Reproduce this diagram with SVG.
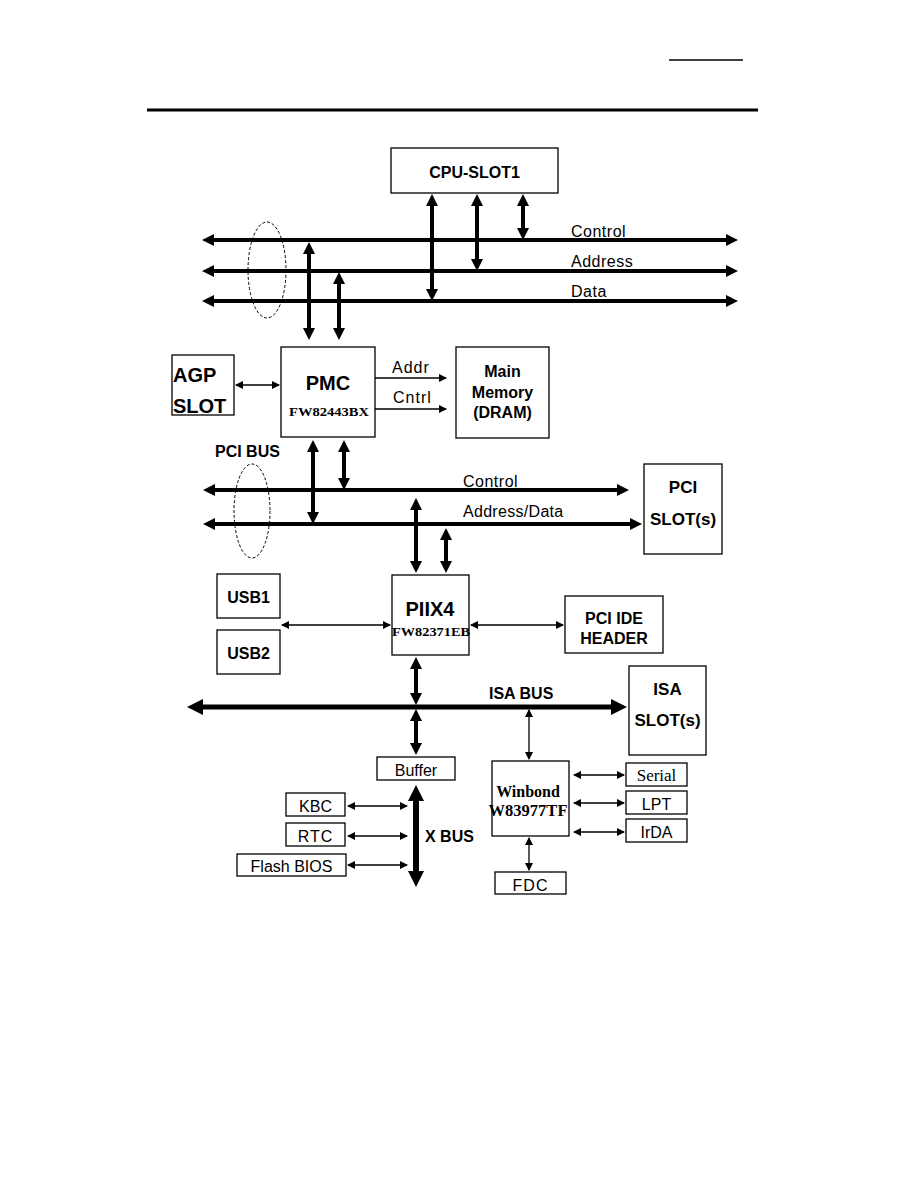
<svg xmlns="http://www.w3.org/2000/svg" width="918" height="1188" viewBox="0 0 918 1188">
<defs>
<marker id="m1" markerUnits="userSpaceOnUse" markerWidth="12" markerHeight="12" refX="8" refY="6" orient="auto-start-reverse"><path d="M0,0 L12,6 L0,12 z" fill="#000"/></marker>
<marker id="m2" markerUnits="userSpaceOnUse" markerWidth="8" markerHeight="8" refX="7" refY="4" orient="auto-start-reverse"><path d="M0,0 L8,4 L0,8 z" fill="#000"/></marker>
<marker id="m3" markerUnits="userSpaceOnUse" markerWidth="16" markerHeight="16" refX="10" refY="8" orient="auto-start-reverse"><path d="M0,0 L16,8 L0,16 z" fill="#000"/></marker>
<style>
.box{fill:#fff;stroke:#000;stroke-width:1.3}
.bus{stroke:#000;stroke-width:4;fill:none;marker-start:url(#m1);marker-end:url(#m1)}
.thin{stroke:#000;stroke-width:1.3;fill:none;marker-start:url(#m2);marker-end:url(#m2)}
.one{stroke:#000;stroke-width:1.3;fill:none;marker-end:url(#m2)}
.big{stroke:#000;fill:none;marker-start:url(#m3);marker-end:url(#m3)}
.ell{fill:none;stroke:#000;stroke-width:1;stroke-dasharray:3,2}
.b{font-family:"Liberation Sans",Arial,sans-serif;font-weight:bold;fill:#000}
.n{font-family:"Liberation Sans",Arial,sans-serif;fill:#000;font-size:16px}
.s{font-family:"Liberation Serif","Times New Roman",serif;font-weight:bold;fill:#000}
.c{text-anchor:middle}
</style>
</defs>
<rect width="918" height="1188" fill="#fff"/>
<line x1="669" y1="60" x2="743" y2="60" stroke="#000" stroke-width="1.5"/>
<line x1="147" y1="110" x2="758" y2="110" stroke="#000" stroke-width="3"/>

<g id="connectors">
<line class="bus" x1="206" y1="240" x2="734" y2="240"/>
<line class="bus" x1="206" y1="271" x2="734" y2="271"/>
<line class="bus" x1="206" y1="301" x2="734" y2="301"/>
<line class="bus" x1="432" y1="198" x2="432" y2="297"/>
<line class="bus" x1="477" y1="198" x2="477" y2="267"/>
<line class="bus" x1="523" y1="198" x2="523" y2="236"/>
<line class="bus" x1="309" y1="246" x2="309" y2="336"/>
<line class="bus" x1="339" y1="276" x2="339" y2="336"/>
<ellipse class="ell" cx="267" cy="270" rx="19" ry="48"/>
<line class="thin" x1="236" y1="385" x2="279" y2="385"/>
<line class="one" x1="375" y1="378" x2="446" y2="378"/>
<line class="one" x1="375" y1="409" x2="446" y2="409"/>
<line class="bus" x1="313" y1="444" x2="313" y2="520"/>
<line class="bus" x1="344" y1="444" x2="344" y2="486"/>
<line class="bus" x1="207" y1="490" x2="625" y2="490"/>
<line class="bus" x1="207" y1="524" x2="638" y2="524"/>
<ellipse class="ell" cx="252" cy="511" rx="18" ry="47"/>
<line class="bus" x1="416" y1="502" x2="416" y2="569"/>
<line class="bus" x1="446" y1="532" x2="446" y2="569"/>
<line class="thin" x1="282" y1="625" x2="390" y2="625"/>
<line class="thin" x1="471" y1="625" x2="563" y2="625"/>
<line class="bus" x1="416" y1="661" x2="416" y2="701"/>
<line class="big" stroke-width="5" x1="193" y1="707" x2="621" y2="707"/>
<line class="bus" x1="416" y1="713" x2="416" y2="751"/>
<line class="thin" x1="529" y1="710" x2="529" y2="759"/>
<line class="big" stroke-width="6" x1="416" y1="791" x2="416" y2="881"/>
<line class="thin" x1="348" y1="806" x2="407" y2="806"/>
<line class="thin" x1="348" y1="836" x2="407" y2="836"/>
<line class="thin" x1="348" y1="865" x2="407" y2="865"/>
<line class="thin" x1="574" y1="775" x2="624" y2="775"/>
<line class="thin" x1="574" y1="803" x2="624" y2="803"/>
<line class="thin" x1="574" y1="832" x2="624" y2="832"/>
<line class="thin" x1="529" y1="838" x2="529" y2="870"/>
</g>

<g id="bus-labels">
<text class="n" x="571" y="237" letter-spacing="0.5">Control</text>
<text class="n" x="571" y="267" letter-spacing="0.5">Address</text>
<text class="n" x="571" y="297" letter-spacing="0.5">Data</text>
<text class="n" x="392" y="373" font-size="15" letter-spacing="1">Addr</text>
<text class="n" x="393" y="403" font-size="15" letter-spacing="1">Cntrl</text>
<text class="b" x="215" y="457" font-size="16">PCI BUS</text>
<text class="n" x="463" y="487" letter-spacing="0.5">Control</text>
<text class="n" x="463" y="517" letter-spacing="0.3">Address/Data</text>
<text class="b" x="489" y="699" font-size="16">ISA BUS</text>
<text class="b" x="425" y="842" font-size="16">X BUS</text>
</g>

<g id="cpu"><rect class="box" x="391" y="148" width="167" height="45"/><text class="b c" x="474.5" y="178" font-size="16">CPU-SLOT1</text></g>
<g id="agp"><rect class="box" x="172" y="355" width="62" height="60"/><text class="b" x="173" y="382" font-size="20">AGP</text><text class="b" x="173" y="413" font-size="20">SLOT</text></g>
<g id="pmc"><rect class="box" x="281" y="347" width="94" height="90"/><text class="b c" x="328" y="390" font-size="20">PMC</text><text class="s c" x="329" y="416" font-size="13.5" textLength="80" lengthAdjust="spacingAndGlyphs">FW82443BX</text></g>
<g id="mainmem"><rect class="box" x="456" y="347" width="93" height="91"/><text class="b c" x="502.5" y="377" font-size="16">Main</text><text class="b c" x="502.5" y="398" font-size="16">Memory</text><text class="b c" x="502.5" y="418" font-size="16">(DRAM)</text></g>
<g id="pcislot"><rect class="box" x="644" y="464" width="78" height="90"/><text class="b c" x="683" y="493" font-size="17">PCI</text><text class="b c" x="683" y="525" font-size="17">SLOT(s)</text></g>
<g id="usb1"><rect class="box" x="217" y="574" width="63" height="44"/><text class="b c" x="248.5" y="603" font-size="16">USB1</text></g>
<g id="usb2"><rect class="box" x="217" y="630" width="63" height="44"/><text class="b c" x="248.5" y="659" font-size="16">USB2</text></g>
<g id="piix4"><rect class="box" x="392" y="575" width="77" height="80"/><text class="b c" x="430" y="616" font-size="20">PIIX4</text><text class="s c" x="431" y="636" font-size="13.5" textLength="78" lengthAdjust="spacingAndGlyphs">FW82371EB</text></g>
<g id="pciide"><rect class="box" x="565" y="596" width="98" height="57"/><text class="b c" x="614" y="624" font-size="16">PCI IDE</text><text class="b c" x="614" y="644" font-size="16">HEADER</text></g>
<g id="isaslot"><rect class="box" x="629" y="666" width="77" height="89"/><text class="b c" x="667.5" y="695" font-size="17">ISA</text><text class="b c" x="667.5" y="726" font-size="17">SLOT(s)</text></g>
<g id="buffer"><rect class="box" x="377" y="757" width="78" height="23"/><text class="n c" x="416" y="776" font-size="15">Buffer</text></g>
<g id="kbc"><rect class="box" x="286" y="793" width="59" height="23"/><text class="n c" x="315.5" y="812">KBC</text></g>
<g id="rtc"><rect class="box" x="286" y="823" width="59" height="23"/><text class="n c" x="315.5" y="842" letter-spacing="1">RTC</text></g>
<g id="flash"><rect class="box" x="237" y="854" width="109" height="22"/><text class="n c" x="291.5" y="872">Flash BIOS</text></g>
<g id="winbond"><rect class="box" x="492" y="761" width="77" height="75"/><text class="s c" x="528" y="797" font-size="16">Winbond</text><text class="s c" x="528" y="816" font-size="16" textLength="79" lengthAdjust="spacingAndGlyphs">W83977TF</text></g>
<g id="serial"><rect class="box" x="626" y="763" width="61" height="23"/><text class="c" x="656.5" y="781" font-family="Liberation Serif, serif" font-size="17">Serial</text></g>
<g id="lpt"><rect class="box" x="626" y="791" width="61" height="23"/><text class="n c" x="656.5" y="810">LPT</text></g>
<g id="irda"><rect class="box" x="626" y="819" width="61" height="23"/><text class="n c" x="656.5" y="838">IrDA</text></g>
<g id="fdc"><rect class="box" x="495" y="872" width="71" height="22"/><text class="n c" x="530.5" y="891" letter-spacing="1">FDC</text></g>
</svg>
